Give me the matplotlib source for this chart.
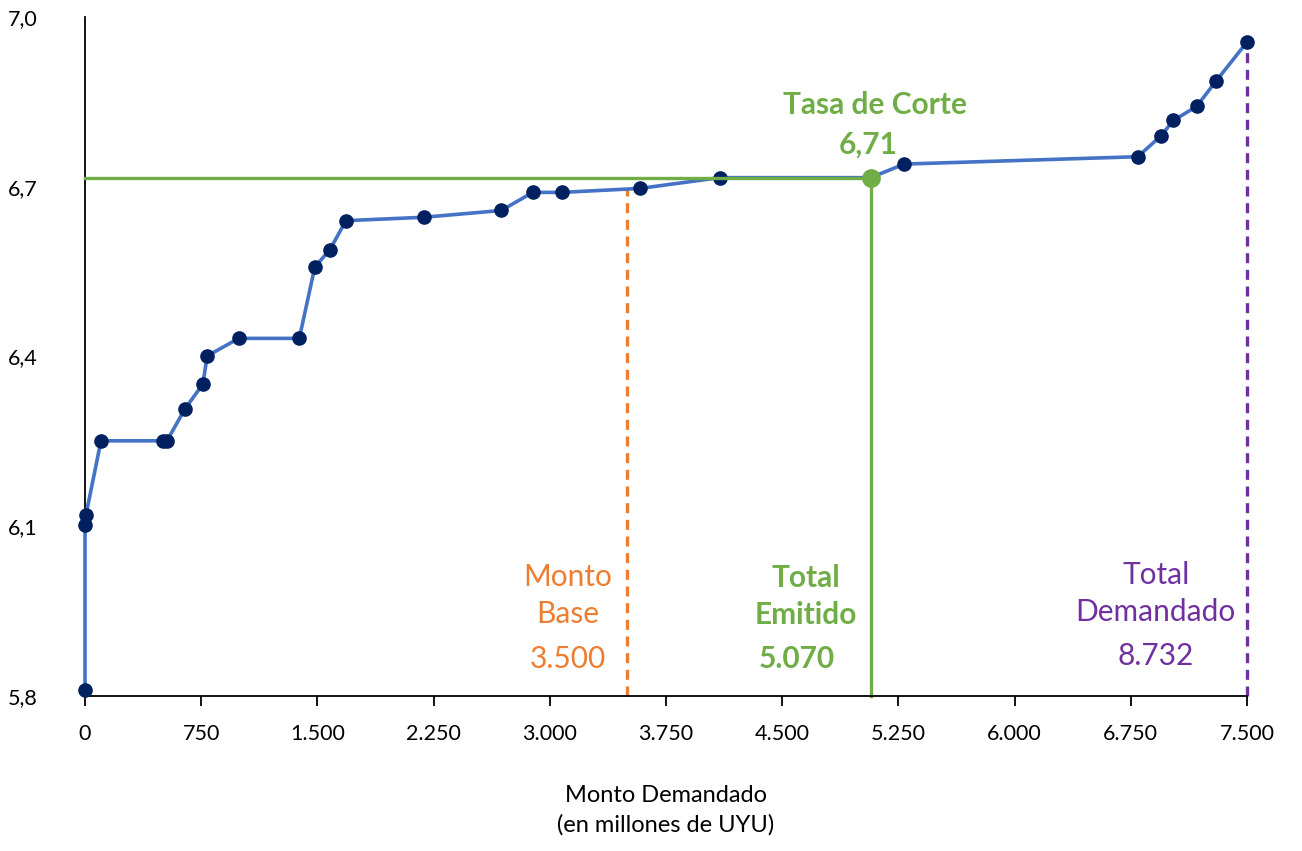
import matplotlib.pyplot as plt
from matplotlib.ticker import FuncFormatter

# demand curve (the cut point sits on the curve)
monto = [0, 0, 6, 103, 503, 529, 644, 760, 789, 992, 1383, 1483, 1581, 1684,
         2186, 2687, 2890, 3079, 3582, 4097, 5070, 5288, 6795, 6945, 7024, 7175,
         7298, 7498]
tasa = [5.811, 6.102, 6.120, 6.251, 6.251, 6.251, 6.307, 6.351, 6.401, 6.432,
        6.432, 6.558, 6.589, 6.640, 6.646, 6.658, 6.690, 6.690, 6.697, 6.716,
        6.716, 6.740, 6.753, 6.790, 6.817, 6.842, 6.886, 6.955]

monto_base = 3500
base_tasa = 6.697
total_emitido = 5070
tasa_corte = 6.716
total_dem_pos = 7500
total_dem_tasa = 6.955

x_ticks = [0, 750, 1500, 2250, 3000, 3750, 4500, 5250, 6000, 6750, 7500]
y_ticks = [5.8, 6.1, 6.4, 6.7, 7.0]

BLUE = "#4472C4"
NAVY = "#002060"
GREEN = "#70AD47"
ORANGE = "#ED7D31"
PURPLE = "#7030A0"

plt.rcParams['font.family'] = ['Lato', 'DejaVu Sans']

fig = plt.figure(figsize=(13.02, 8.51), dpi=100)
ax = fig.add_axes([0.0653, 0.1821, 0.8925, 0.798])

ax.plot(monto, tasa, color=BLUE, lw=2.6, marker='o', ms=9.5,
        mfc=NAVY, mec=NAVY, zorder=3)

# cut-off lines
ax.plot([0, total_emitido], [tasa_corte, tasa_corte], color=GREEN, lw=2.4, zorder=3.5)
ax.plot([total_emitido, total_emitido], [5.8, tasa_corte], color=GREEN, lw=2.4, zorder=2)
ax.plot([total_emitido], [tasa_corte], 'o', color=GREEN, ms=12.5, zorder=4)
ax.plot([monto_base, monto_base], [5.8, base_tasa], color=ORANGE, lw=2.4,
        ls=(0, (3, 2)), zorder=2)
ax.plot([total_dem_pos, total_dem_pos], [5.8, total_dem_tasa], color=PURPLE, lw=2.4,
        ls=(0, (3, 2)), zorder=2)

fs = 21.5
ax.text(3115, 5.978, "Monto\nBase", color=ORANGE, fontsize=fs, ha='center',
        va='center', linespacing=1.38)
ax.text(3115, 5.865, "3.500", color=ORANGE, fontsize=fs, ha='center', va='center')
ax.text(4655, 5.976, "Total\nEmitido", color=GREEN, fontsize=fs, ha='center',
        va='center', fontweight='bold', linespacing=1.38)
ax.text(4595, 5.865, "5.070", color=GREEN, fontsize=fs, ha='center', va='center',
        fontweight='bold')
ax.text(6910, 5.981, "Total\nDemandado", color=PURPLE, fontsize=fs, ha='center',
        va='center', linespacing=1.38)
ax.text(6910, 5.870, "8.732", color=PURPLE, fontsize=fs, ha='center', va='center')
ax.text(5100, 6.845, "Tasa de Corte", color=GREEN, fontsize=fs, ha='center',
        va='center', fontweight='bold')
ax.text(5055, 6.774, "6,71", color=GREEN, fontsize=fs, ha='center', va='center',
        fontweight='bold')

ax.set_xlim(0, 7500)
ax.set_ylim(5.8, 7.0)
ax.set_xticks(x_ticks)
ax.set_yticks(y_ticks)
ax.xaxis.set_major_formatter(FuncFormatter(lambda v, p: f"{int(v):,}".replace(",", ".")))
ax.yaxis.set_major_formatter(FuncFormatter(lambda v, p: f"{v:.1f}".replace(".", ",")))
ax.tick_params(axis='x', length=7, width=1.3, pad=13, labelsize=15.5)
ax.tick_params(axis='y', length=0, pad=34, labelsize=15.5)
for s in ['top', 'right']:
    ax.spines[s].set_visible(False)
ax.spines['left'].set_linewidth(1.3)
ax.spines['bottom'].set_linewidth(1.3)
for art in ax.lines:
    art.set_clip_on(False)

ax.set_xlabel("Monto Demandado\n(en millones de UYU)", fontsize=17,
              labelpad=30, linespacing=1.45)

fig.savefig("out.png", dpi=100)
